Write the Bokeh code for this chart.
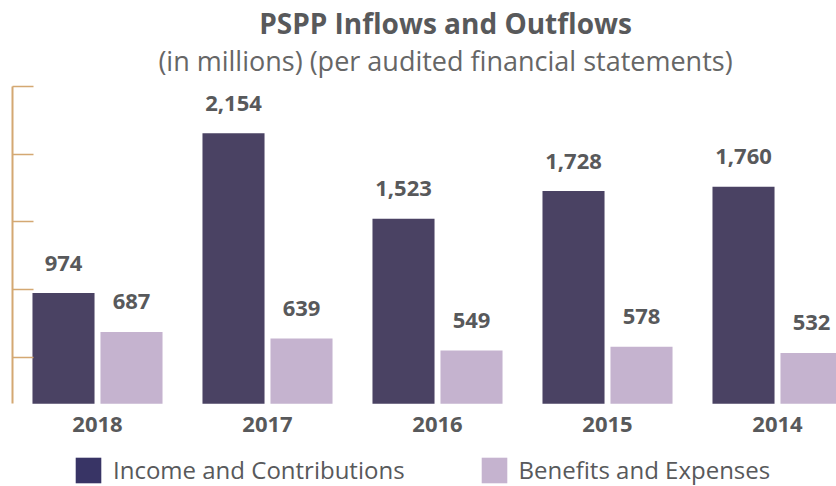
from bokeh.plotting import figure
from bokeh.models import (ColumnDataSource, FixedTicker, Label, Legend, LegendItem, Range1d,
                          CustomLabelingPolicy)
from bokeh.core.properties import value
from bokeh.transform import dodge
from bokeh.embed import file_html
from bokeh.resources import INLINE

years = ["2018", "2017", "2016", "2015", "2014"]
income = [974, 2154, 1523, 1728, 1760]
benefits = [687, 639, 549, 578, 532]
y_ticks = [500, 1000, 1500, 2000, 2500]
axis_base = 156

FONT = "Open Sans"
TXT = "#58595B"
DARK = "#4A4263"
DARK_KEY = "#383465"
LIGHT = "#C5B3CF"
TAN = "#D4A872"

idx = list(range(len(years)))
src = ColumnDataSource(dict(
    x=idx,
    years=years,
    income=income,
    benefits=benefits,
    income_lbl=[f"{v:,}" for v in income],
    benefits_lbl=[f"{v:,}" for v in benefits],
    base=[axis_base] * len(years),
))

p = figure(width=836, height=486, output_backend="svg", toolbar_location=None,
           x_range=Range1d(-0.5, 4.347), y_range=Range1d(-455, 3135.6),
           x_axis_location=None, y_axis_location="left",
           min_border_left=12, min_border_right=0, min_border_top=0, min_border_bottom=0)
p.outline_line_color = None
p.xgrid.visible = False
p.ygrid.visible = False
p.background_fill_color = "white"
p.border_fill_color = "white"

ax = p.yaxis[0]
ax.bounds = (axis_base, y_ticks[-1])
ax.ticker = FixedTicker(ticks=y_ticks)
ax.major_tick_in = 21
ax.major_tick_out = 0
ax.minor_tick_in = 0
ax.minor_tick_out = 0
ax.major_label_text_font_size = "1px"
ax.major_label_text_alpha = 0
ax.major_label_standoff = 0
ax.major_label_policy = CustomLabelingPolicy(code="return")
ax.axis_line_color = TAN
ax.axis_line_width = 2
ax.major_tick_line_color = TAN
ax.major_tick_line_width = 1.5

W = 0.365
r_inc = p.vbar(x=dodge("x", -0.2, range=p.x_range), top="income", bottom="base", width=W,
               source=src, fill_color=DARK, line_color=None)
r_ben = p.vbar(x=dodge("x", 0.2, range=p.x_range), top="benefits", bottom="base", width=W,
               source=src, fill_color=LIGHT, line_color=None)
# legend key only (zero-width bars, same data)
key_dark = p.vbar(x=dodge("x", -0.2, range=p.x_range), top="income", bottom="base", width=0,
                  source=src, fill_color=DARK_KEY, line_color=None)

common = dict(text_align="center", text_baseline="middle", text_font=value(FONT),
              text_font_style="bold", text_font_size="22px", text_color=TXT)
p.text(x=dodge("x", -0.2, range=p.x_range), y="income", text="income_lbl", source=src,
       y_offset=-30, **common)
p.text(x=dodge("x", 0.2, range=p.x_range), y="benefits", text="benefits_lbl", source=src,
       y_offset=-30, **common)
p.text(x="x", y="base", text="years", source=src, y_offset=21, **common)

p.add_layout(Label(x=2.047, y=2973, text="PSPP Inflows and Outflows", text_align="center",
                   text_baseline="middle", text_font=FONT, text_font_style="bold",
                   text_font_size="28px", text_color=TXT))
p.add_layout(Label(x=2.047, y=2692, text="(in millions) (per audited financial statements)",
                   text_align="center", text_baseline="middle", text_font=FONT,
                   text_font_size="27px", text_color="#666666"))

legend = Legend(items=[LegendItem(label="Income and Contributions", renderers=[key_dark]),
                       LegendItem(label="Benefits and Expenses", renderers=[r_ben])],
                location=(60, 0), orientation="horizontal",
                glyph_width=32, glyph_height=32, label_standoff=9, spacing=73,
                padding=0, margin=0, border_line_color=None, background_fill_alpha=0,
                label_text_font=FONT, label_text_font_size="24px", label_text_color=TXT,
                label_text_baseline="middle")
p.add_layout(legend)

open("out.html", "w").write(file_html(p, INLINE))
